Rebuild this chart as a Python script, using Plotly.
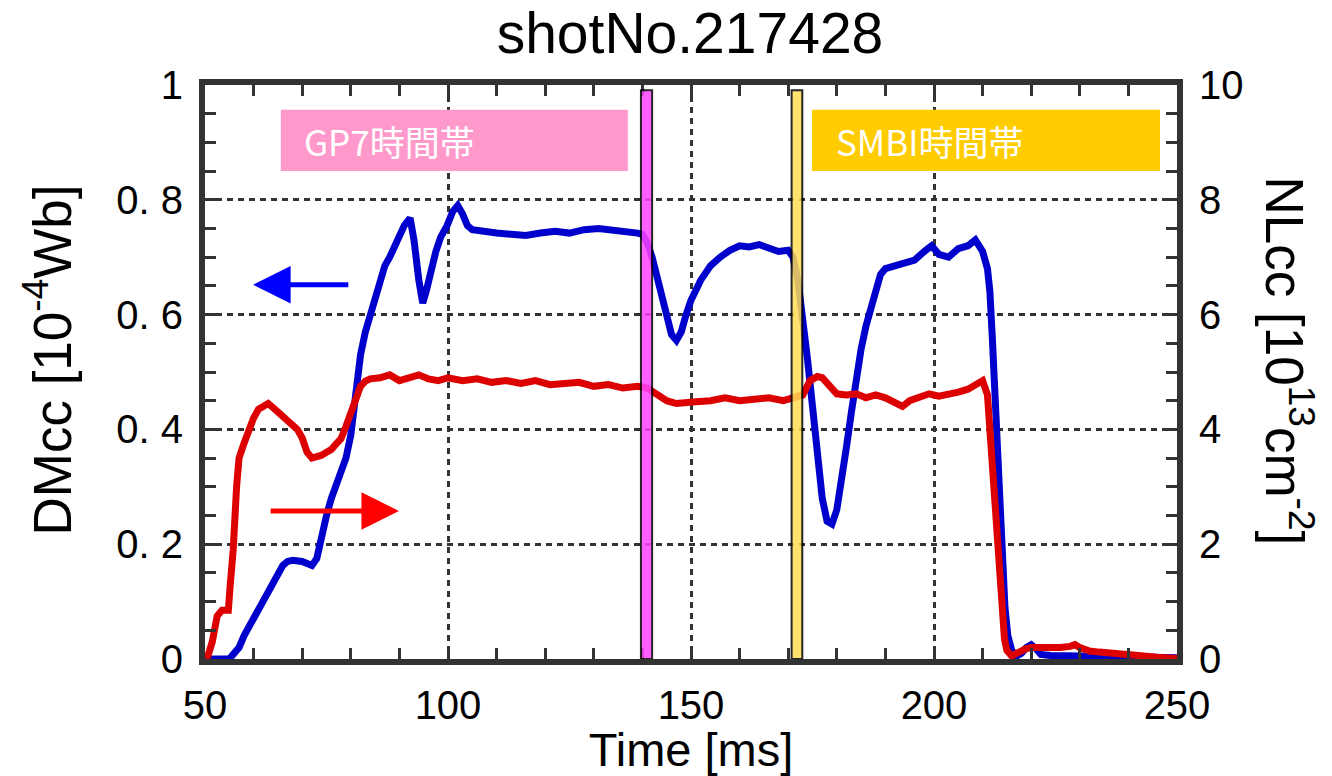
import plotly.graph_objects as go

# ---- data ----
dm_t = [50, 52, 54, 55, 56, 57, 58, 59, 60, 61, 62, 63, 64, 65, 66, 67, 68, 70, 72, 73, 74, 75, 76, 77,
        78, 79, 80, 81, 82, 83, 84, 85, 86, 87, 88, 89, 90, 91, 92.2, 93, 94, 94.8, 95.5, 96.5, 97.5,
        98.5, 99.8, 101, 102, 103, 104, 105, 107, 110, 113, 116, 119, 122, 125, 128, 131, 134, 137,
        139, 140, 141, 142, 143, 144, 145, 146, 147, 148, 149, 150, 152, 154, 156, 158, 160, 162, 164,
        166, 168, 170, 171, 172, 173, 174, 175, 176, 177, 178, 179, 180, 181, 182, 183, 184, 185, 186,
        187, 188, 189, 190, 192, 194, 196, 198, 199.5, 201, 203, 205, 207, 208.5, 210, 211, 211.5, 212,
        212.5, 213, 213.5, 214, 214.6, 215.2, 216, 217, 218, 219, 220, 221, 222, 224, 228, 232, 236,
        240, 245, 250]
dm_v = [0.0, 0.0, 0.002, 0.0, 0.01, 0.02, 0.04, 0.055, 0.07, 0.085, 0.1, 0.118, 0.135, 0.15, 0.163,
        0.17, 0.172, 0.17, 0.163, 0.175, 0.215, 0.25, 0.28, 0.305, 0.33, 0.35, 0.39, 0.46, 0.53, 0.57,
        0.6, 0.635, 0.665, 0.685, 0.7, 0.72, 0.74, 0.755, 0.768, 0.73, 0.66, 0.62, 0.64, 0.68, 0.71,
        0.735, 0.755, 0.78, 0.79, 0.775, 0.755, 0.748, 0.745, 0.742, 0.74, 0.738, 0.742, 0.745, 0.742,
        0.748, 0.75, 0.748, 0.745, 0.742, 0.74, 0.725, 0.7, 0.665, 0.63, 0.59, 0.565, 0.555, 0.57, 0.6,
        0.625, 0.66, 0.685, 0.7, 0.712, 0.72, 0.718, 0.722, 0.715, 0.71, 0.712, 0.7, 0.66, 0.6, 0.52,
        0.44, 0.36, 0.28, 0.24, 0.235, 0.26, 0.31, 0.37, 0.43, 0.49, 0.54, 0.58, 0.61, 0.65, 0.67, 0.68,
        0.685, 0.69, 0.695, 0.71, 0.72, 0.705, 0.7, 0.715, 0.72, 0.73, 0.71, 0.68, 0.64, 0.56, 0.46,
        0.36, 0.26, 0.17, 0.09, 0.04, 0.015, 0.005, 0.01, 0.02, 0.025, 0.018, 0.008, 0.006, 0.006,
        0.005, 0.005, 0.004, 0.003, 0.002]

nl_t = [50, 50.4, 51.5, 52.5, 53.5, 54.8, 55.2, 55.8, 56.5, 57, 58, 59, 60, 61, 62, 63, 64, 65, 66,
        67, 68, 69, 70, 71, 72, 73, 74, 75, 76, 77, 78, 79, 80, 81, 82, 83, 84, 86, 88, 90, 92, 94,
        96, 98, 100, 103, 106, 109, 112, 115, 118, 121, 124, 127, 130, 133, 136, 139, 141, 143, 145,
        147, 149, 151, 154, 157, 160, 163, 166, 169, 171, 173, 174.5, 176, 177, 178, 180, 182, 184,
        186, 188, 190, 192, 193.5, 195, 197, 199, 201, 203, 205, 207, 209, 210, 211, 211.5, 212,
        212.5, 213, 213.5, 214, 214.5, 215, 216, 217, 218, 219, 220, 222, 224, 226, 228, 229, 230,
        232, 234, 236, 238, 240, 243, 246, 250]
nl_v = [0.0, 0.0, 0.3, 0.75, 0.85, 0.85, 1.3, 1.9, 3.0, 3.5, 3.75, 4.0, 4.2, 4.35, 4.4, 4.45, 4.38,
        4.3, 4.25, 4.15, 4.1, 4.0, 3.85, 3.6, 3.5, 3.52, 3.55, 3.6, 3.65, 3.75, 3.84, 4.05, 4.3, 4.55,
        4.75, 4.84, 4.88, 4.9, 4.95, 4.85, 4.9, 4.95, 4.88, 4.85, 4.9, 4.85, 4.88, 4.82, 4.85, 4.8,
        4.85, 4.78, 4.8, 4.82, 4.75, 4.78, 4.72, 4.75, 4.72, 4.6, 4.5, 4.45, 4.45, 4.48, 4.5, 4.55,
        4.5, 4.52, 4.55, 4.5, 4.55, 4.6, 4.85, 4.92, 4.9, 4.8, 4.62, 4.6, 4.62, 4.55, 4.6, 4.55, 4.45,
        4.4, 4.5, 4.55, 4.62, 4.58, 4.6, 4.65, 4.7, 4.8, 4.85, 4.6, 4.0, 3.2, 2.5, 1.8, 1.2, 0.7, 0.35,
        0.15, 0.05, 0.1, 0.15, 0.18, 0.2, 0.19, 0.18, 0.2, 0.22, 0.25, 0.2, 0.14, 0.12, 0.1, 0.1, 0.08,
        0.05, 0.03, 0.01]

x_ticks = [50, 100, 150, 200, 250]
y_ticks = [0, 0.2, 0.4, 0.6, 0.8, 1]
y_ticktext = ["0", "0. 2", "0. 4", "0. 6", "0. 8", "1"]
y2_ticks = [0, 2, 4, 6, 8, 10]

gp7_window = [139.7, 142.0]
smbi_window = [170.7, 172.9]

FONT = "Liberation Sans, Arial, sans-serif"
CJK = "Noto Sans CJK JP, sans-serif"
AX = "#333333"

fig = go.Figure()
fig.add_trace(go.Scatter(x=nl_t, y=nl_v, yaxis="y2", mode="lines",
                         line=dict(color="#DD0000", width=7), showlegend=False))
fig.add_trace(go.Scatter(x=dm_t, y=dm_v, yaxis="y", mode="lines",
                         line=dict(color="#0000CC", width=7), showlegend=False))

# time windows (bars)
fig.add_shape(type="rect", xref="x", yref="y", x0=gp7_window[0], x1=gp7_window[1], y0=0, y1=0.991,
              fillcolor="#FF44FF", opacity=0.85, line=dict(color="black", width=2), layer="above")
fig.add_shape(type="rect", xref="x", yref="y", x0=smbi_window[0], x1=smbi_window[1], y0=0, y1=0.991,
              fillcolor="#FFDD55", opacity=0.85, line=dict(color="black", width=2), layer="above")

# label boxes
fig.add_shape(type="rect", xref="x", yref="y", x0=65.6, x1=137.0, y0=0.850, y1=0.957,
              fillcolor="#FF99CC", line=dict(width=0), layer="above")
fig.add_shape(type="rect", xref="x", yref="y", x0=174.9, x1=246.5, y0=0.850, y1=0.957,
              fillcolor="#FFCC00", line=dict(width=0), layer="above")
fig.add_annotation(x=70.0, y=0.9035, xref="x", yref="y", text="GP7時間帯", showarrow=False,
                   xanchor="left", yanchor="middle", font=dict(family=CJK, size=35, color="white"))
fig.add_annotation(x=179.4, y=0.9035, xref="x", yref="y", text="SMBI時間帯", showarrow=False,
                   xanchor="left", yanchor="middle", font=dict(family=CJK, size=35, color="white"))

# arrows
fig.add_annotation(x=59.9, y=0.652, ax=79.8, ay=0.652, xref="x", yref="y", axref="x", ayref="y",
                   text="", showarrow=True, arrowhead=2, arrowsize=1.5, arrowwidth=5, arrowcolor="#0000FF")
fig.add_annotation(x=89.9, y=0.258, ax=63.2, ay=0.258, xref="x", yref="y", axref="x", ayref="y",
                   text="", showarrow=True, arrowhead=2, arrowsize=1.5, arrowwidth=5, arrowcolor="#FF0000")

# axis titles
fig.add_annotation(x=0, y=0.52, xref="paper", yref="paper", xshift=-157, xanchor="center",
                   yanchor="middle", text="DMcc [10<sup>-4</sup>Wb]",
                   textangle=-90, showarrow=False, font=dict(family=FONT, size=53, color="black"))
fig.add_annotation(x=1, y=0.52, xref="paper", yref="paper", xshift=112, xanchor="center",
                   yanchor="middle", text="NLcc [10<sup>13</sup>cm<sup>-2</sup>]",
                   textangle=90, showarrow=False, font=dict(family=FONT, size=53, color="black"))


def minor(step):
    return dict(tickmode="linear", tick0=0, dtick=step, ticks="inside", ticklen=11,
                tickwidth=3, tickcolor=AX, showgrid=False)


fig.update_layout(
    width=1332, height=776,
    margin=dict(l=205, r=155, t=85, b=110),
    paper_bgcolor="white", plot_bgcolor="white",
    title=dict(text="shotNo.217428", x=0.518, xanchor="center", y=0.958, yanchor="middle",
               font=dict(family=FONT, size=57, color="black")),
    xaxis=dict(range=[50, 250], tickvals=x_ticks, ticks="inside", ticklen=11, tickwidth=3,
               tickcolor=AX, showline=True, linewidth=6, linecolor=AX, mirror="ticks",
               showgrid=True, gridcolor=AX, gridwidth=3, griddash="6px,5px", zeroline=False,
               minor=minor(10),
               tickfont=dict(family=FONT, size=40, color="black"), ticklabelstandoff=6,
               title=dict(text="Time [ms]", font=dict(family=FONT, size=47, color="black"), standoff=4)),
    yaxis=dict(range=[0, 1], tickvals=y_ticks, ticktext=y_ticktext, ticks="inside", ticklen=11,
               tickwidth=3, tickcolor=AX, showline=True, linewidth=6, linecolor=AX, mirror=True,
               showgrid=True, gridcolor=AX, gridwidth=3, griddash="6px,5px", zeroline=False,
               minor=minor(0.05),
               tickfont=dict(family=FONT, size=40, color="black"), ticklabelstandoff=8),
    yaxis2=dict(range=[0, 10], overlaying="y", side="right", tickvals=y2_ticks, ticks="inside",
                ticklen=11, tickwidth=3, tickcolor=AX, showline=True, linewidth=6, linecolor=AX,
                showgrid=False, zeroline=False, minor=minor(0.5),
                tickfont=dict(family=FONT, size=40, color="black"), ticklabelstandoff=8),
)

fig.write_html("out.html")
